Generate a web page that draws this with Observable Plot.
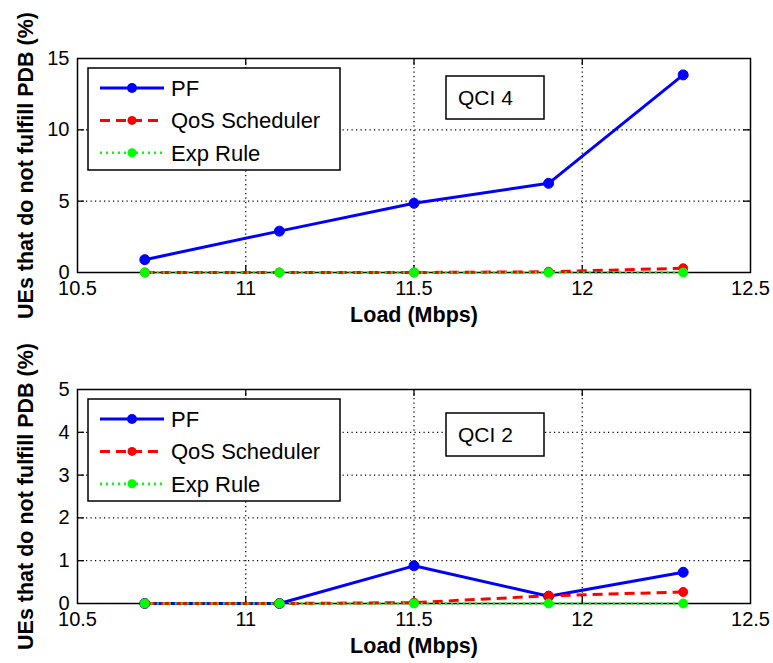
<!DOCTYPE html>
<html>
<head>
<meta charset="utf-8">
<script src="https://cdn.jsdelivr.net/npm/d3@7"></script>
<script src="https://cdn.jsdelivr.net/npm/@observablehq/plot@0.6"></script>
<style>
  body { margin: 0; background: #fff; font-family: "Liberation Sans", Arial, sans-serif; }
  #chart { width: 773px; }
  #chart svg { display: block; }
</style>
</head>
<body>
<div id="chart"></div>
<script>
// Offered load (Mbps) at which each scheduler was evaluated
const loads = [10.7, 11.1, 11.5, 11.9, 12.3];
const seriesNames = ["PF", "QoS Scheduler", "Exp Rule"];

// Share of UEs missing the packet delay budget (%), QCI 4 traffic
const qci4PF  = [0.9, 2.9, 4.85, 6.25, 13.85];
const qci4QoS = [0, 0, 0, 0.05, 0.3];
const qci4Exp = [0, 0, 0, 0, 0];

// Same metric for QCI 2 traffic
const qci2PF  = [0, 0, 0.88, 0.17, 0.73];
const qci2QoS = [0, 0, 0.02, 0.18, 0.27];
const qci2Exp = [0, 0, 0, 0, 0];

const xTicks = [10.5, 11, 11.5, 12, 12.5];
const yTicksQci4 = [0, 5, 10, 15];
const yTicksQci2 = [0, 1, 2, 3, 4, 5];
const yLabel = "UEs that do not fulfill PDB (%)";
const xLabel = "Load (Mbps)";

// Line look per scheduler (MATLAB-like: solid, dashed, dotted)
const looks = [
  {color: "#0000ff", dash: null, width: 3, r: 5},
  {color: "#ff0000", dash: "10,6", width: 3, r: 4.5},
  {color: "#00ff00", dash: "2,4", width: 2.5, r: 4.5}
];

const FONT = "'Liberation Sans', Arial, sans-serif";

function panel({title, series, yTicks, height, marginTop, marginBottom, legendTop, boxTop}) {
  const W = 773, ml = 77, mr = 23;
  const fw = W - ml - mr, fh = height - marginTop - marginBottom;
  const inner = a => a.slice(1, -1);
  const dotted = {stroke: "#000", strokeOpacity: 1, strokeWidth: 1.2, strokeDasharray: "1.2,3.3"};
  const tickStyle = {stroke: "#000", strokeWidth: 1.3};

  const lineMarks = series.flatMap((vals, i) => {
    const rows = loads.map((load, j) => ({load, value: vals[j]}));
    const lk = looks[i];
    return [
      Plot.line(rows, {x: "load", y: "value", stroke: lk.color, strokeWidth: lk.width,
        strokeDasharray: lk.dash, strokeLinecap: "butt"}),
      Plot.dot(rows, {x: "load", y: "value", r: lk.r, fill: lk.color, stroke: lk.color, strokeWidth: 1})
    ];
  });

  const node = Plot.plot({
    width: W, height, marginLeft: ml, marginRight: mr, marginTop, marginBottom,
    style: {fontFamily: FONT, fontSize: "20px", color: "#000", background: "#fff", overflow: "visible"},
    x: {domain: [xTicks[0], xTicks[xTicks.length - 1]]},
    y: {domain: [yTicks[0], yTicks[yTicks.length - 1]]},
    marks: [
      Plot.gridX(inner(xTicks), dotted),
      Plot.gridY(inner(yTicks), dotted),
      Plot.tickX(inner(xTicks), {x: d => d, insetTop: fh - 7, ...tickStyle}),
      Plot.tickX(inner(xTicks), {x: d => d, insetBottom: fh - 7, ...tickStyle}),
      Plot.tickY(inner(yTicks), {y: d => d, insetRight: fw - 7, ...tickStyle}),
      Plot.tickY(inner(yTicks), {y: d => d, insetLeft: fw - 7, ...tickStyle}),
      Plot.axisX(xTicks, {tickSize: 0, tickPadding: 8, fontSize: 20, label: null, tickFormat: d => String(d)}),
      Plot.axisY(yTicks, {tickSize: 0, tickPadding: 8, fontSize: 20, label: null, tickFormat: d => String(d)}),
      Plot.frame({stroke: "#000", strokeWidth: 1.5}),
      ...lineMarks,
      Plot.text([yLabel], {text: d => d, frameAnchor: "left", rotate: -90, dx: -51,
        textAnchor: "middle", lineAnchor: "middle", fontWeight: "bold", fontSize: 21.5}),
      Plot.text([xLabel], {text: d => d, frameAnchor: "bottom", dy: 43,
        textAnchor: "middle", lineAnchor: "middle", fontWeight: "bold", fontSize: 21.5})
    ]
  });

  const svg = d3.select(node);

  // Legend box in the upper-left corner of the axes
  const g = svg.append("g").attr("transform", `translate(${ml + 11},${marginTop + legendTop})`)
    .attr("text-anchor", "start");
  g.append("rect").attr("width", 252).attr("height", 102)
    .attr("fill", "#fff").attr("stroke", "#000").attr("stroke-width", 1.5);
  seriesNames.forEach((name, i) => {
    const lk = looks[i];
    const y = 20 + i * 32.4;
    g.append("line").attr("x1", 12).attr("x2", 76).attr("y1", y).attr("y2", y)
      .attr("stroke", lk.color).attr("stroke-width", lk.width)
      .attr("stroke-dasharray", lk.dash);
    g.append("circle").attr("cx", 44).attr("cy", y).attr("r", lk.r).attr("fill", lk.color);
    g.append("text").attr("x", 83).attr("y", y).attr("dy", "0.36em")
      .attr("font-family", FONT).attr("font-size", 22).attr("fill", "#000").text(name);
  });

  // Annotation box naming the traffic class
  const b = svg.append("g").attr("transform", `translate(${ml + 369},${marginTop + boxTop})`)
    .attr("text-anchor", "start");
  b.append("rect").attr("width", 98).attr("height", 43)
    .attr("fill", "#fff").attr("stroke", "#000").attr("stroke-width", 1.5);
  b.append("text").attr("x", 12).attr("y", 21.5).attr("dy", "0.36em")
    .attr("font-family", FONT).attr("font-size", 21).attr("fill", "#000").text(title);

  return node;
}

const chart = document.getElementById("chart");
chart.append(panel({
  title: "QCI 4", series: [qci4PF, qci4QoS, qci4Exp], yTicks: yTicksQci4,
  height: 330, marginTop: 58, marginBottom: 58, legendTop: 10, boxTop: 18
}));
chart.append(panel({
  title: "QCI 2", series: [qci2PF, qci2QoS, qci2Exp], yTicks: yTicksQci2,
  height: 333, marginTop: 59, marginBottom: 60, legendTop: 10, boxTop: 24
}));
</script>
</body>
</html>
